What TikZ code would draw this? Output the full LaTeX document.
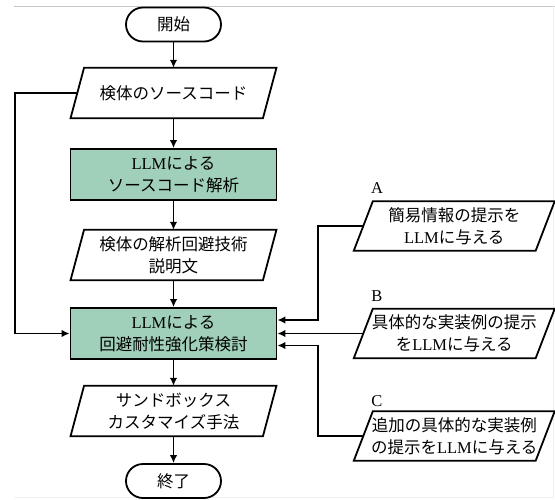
\documentclass[tikz,border=0pt]{standalone}
\usepackage{fontspec}
\setmainfont{Liberation Serif}
\newfontfamily\jp{Noto Sans CJK JP}
\usetikzlibrary{arrows.meta,calc}
\definecolor{procgreen}{RGB}{160,208,185}
\begin{document}
\begin{tikzpicture}[x=1pt,y=-1pt,
  every node/.style={font=\fontsize{16.5}{22}\selectfont},
  term/.style={draw,line width=1.8pt,rounded corners=17pt,minimum width=95pt,minimum height=34pt,inner sep=0pt},
  proc/.style={draw,line width=1.8pt,fill=procgreen,minimum width=206pt,minimum height=51pt,inner sep=0pt,align=center},
  iobox/.style={minimum width=192pt,minimum height=50pt,inner sep=0pt,align=center},
  ioboxr/.style={minimum width=181.5pt,minimum height=49pt,inner sep=0pt,align=center},
  arr/.style={line width=1.8pt,-{Latex[length=8pt,width=7.5pt]}},
  lbl/.style={inner sep=0pt},
  frame/.style={line width=1.8pt,line join=miter}
]
\useasboundingbox (0,0) rectangle (555,499);
\draw[gray!45,line width=1pt] (14,6) -- (555,6);
\draw[gray!12,line width=0.8pt] (553.5,6) -- (553.5,499);
\draw[gray!10,line width=0.8pt] (14,497.5) -- (553,497.5);

\node[term] (start) at (173.5,24.5) {\jp 開始};
\node[iobox] (p1) at (173.5,93) {\jp 検体のソースコード};
\node[proc] (g1) at (173.5,174.5) {LLM{\jp による}\\{\jp ソースコード解析}};
\node[iobox] (p2) at (173.5,255) {\jp 検体の解析回避技術\\\jp 説明文};
\node[proc] (g2) at (173.5,333.5) {LLM{\jp による}\\{\jp 回避耐性強化策検討}};
\node[iobox] (p3) at (173.5,411) {\jp サンドボックス\\\jp カスタマイズ手法};
\node[term] (end) at (173.5,481) {\jp 終了};

\node[ioboxr] (a) at (454.25,226) {{\jp 簡易情報の提示を}\\LLM{\jp に与える}};
\node[ioboxr] (b) at (454.25,333.5) {{\jp 具体的な実装例の提示}\\{\jp を}LLM{\jp に与える}};
\node[ioboxr] (c) at (454.25,436) {{\jp 追加の具体的な実装例}\\{\jp の提示を}LLM{\jp に与える}};
\node[lbl] (la) at (377,188) {A};
\node[lbl] (lb) at (377,296) {B};
\node[lbl] (lc) at (377,401) {C};

\foreach \n/\s in {p1/6.75,p2/6.75,p3/6.75,a/9.5,b/9.5,c/9.5}
  \draw[frame] ([xshift=\s pt]\n.north west) -- ([xshift=\s pt]\n.north east)
     -- ([xshift=-\s pt]\n.south east) -- ([xshift=-\s pt]\n.south west) -- cycle;

\draw[arr] (start) -- (p1);
\draw[arr] (p1) -- (g1);
\draw[arr] (g1) -- (p2);
\draw[arr] (p2) -- (g2);
\draw[arr] (g2) -- (p3);
\draw[arr] (p3) -- (end);

\coordinate (loopx) at (15,93);
\draw[arr] (p1.west) -- (loopx) |- (g2.west);

\coordinate (ja) at (318,320);
\coordinate (jc) at (318,345.5);
\draw[arr] (a.west) -| (ja) -- (ja -| g2.east);
\draw[arr] (b.west) -- (g2.east);
\draw[arr] (c.west) -| (jc) -- (jc -| g2.east);
\end{tikzpicture}
\end{document}
